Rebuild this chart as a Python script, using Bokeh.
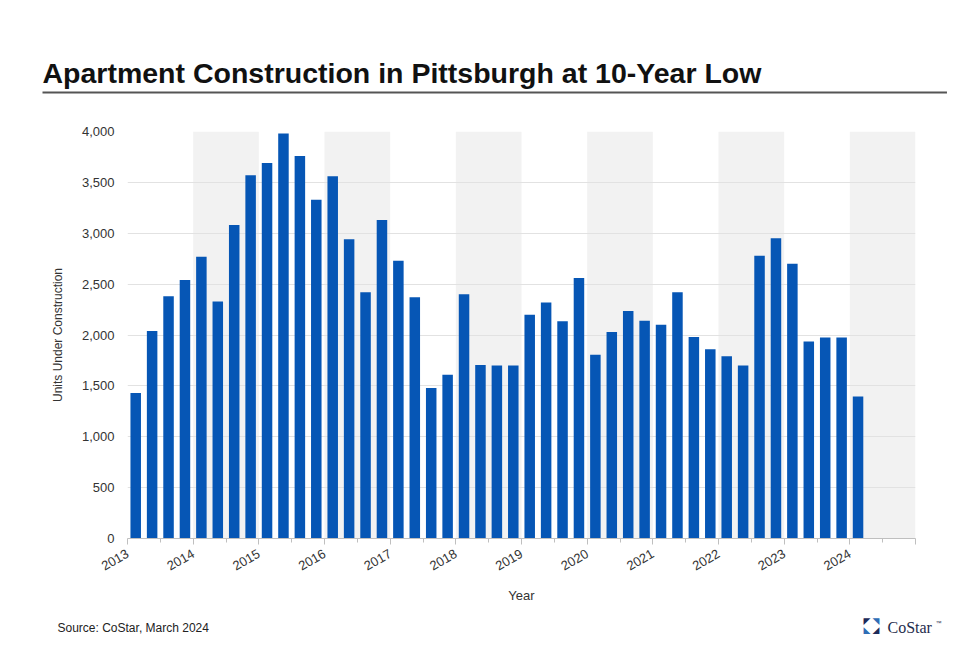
import math
from bokeh.plotting import figure
from bokeh.models import (FixedTicker, NumeralTickFormatter, Range1d, Label,
                          ColumnDataSource, CustomJSTickFormatter)
from bokeh.embed import file_html
from bokeh.resources import INLINE

# ---- data ----
years = [2013, 2014, 2015, 2016, 2017, 2018, 2019, 2020, 2021, 2022, 2023, 2024]
quarter_year = [y for y in years for _ in range(4)][:45]
quarter_num = [q for _ in years for q in (1, 2, 3, 4)][:45]
units = [1430, 2040, 2380, 2540,
         2770, 2330, 3080, 3570,
         3690, 3980, 3760, 3330,
         3560, 2940, 2420, 3130,
         2730, 2370, 1480, 1610,
         2400, 1705, 1700, 1700,
         2200, 2320, 2135, 2560,
         1805, 2030, 2235, 2140,
         2100, 2420, 1980, 1860,
         1790, 1700, 2780, 2950,
         2700, 1935, 1975, 1975,
         1395]
shaded_years = [2014, 2016, 2018, 2020, 2022, 2024]
y_ticks = [0, 500, 1000, 1500, 2000, 2500, 3000, 3500, 4000]

title_text = "Apartment Construction in Pittsburgh at 10-Year Low"
source_text = "Source: CoStar, March 2024"
brand_text = "CoStar"

# ---- figure ----
p = figure(width=956, height=653, output_backend="svg", toolbar_location=None,
           x_range=Range1d(2013, 2025), y_range=Range1d(0, 4000),
           min_border_left=127, min_border_right=41,
           min_border_top=131, min_border_bottom=115)
p.outline_line_color = None
p.background_fill_color = "white"
p.border_fill_color = "white"

band_src = ColumnDataSource(dict(left=shaded_years,
                                 right=[y + 1 for y in shaded_years],
                                 bottom=[0] * len(shaded_years),
                                 top=[4000] * len(shaded_years)))
p.quad(left="left", right="right", bottom="bottom", top="top", source=band_src,
       fill_color="#F2F2F2", line_color=None, level="underlay")

xs = [y + (q - 0.5) / 4 for y, q in zip(quarter_year, quarter_num)]
src = ColumnDataSource(dict(x=xs, top=units))
p.vbar(x="x", top="top", width=0.16, source=src, fill_color="#0656B5",
       line_color=None)

p.xgrid.grid_line_color = None
p.ygrid.grid_line_color = "#E2E2E2"
p.ygrid.ticker = FixedTicker(ticks=y_ticks)

p.yaxis.ticker = FixedTicker(ticks=y_ticks)
p.yaxis.formatter = NumeralTickFormatter(format="0,0")
p.yaxis.axis_line_color = None
p.yaxis.major_tick_line_color = None
p.yaxis.minor_tick_line_color = None
p.yaxis.major_label_text_font = "Liberation Sans"
p.yaxis.major_label_text_font_size = "13px"
p.yaxis.major_label_text_color = "#333333"
p.yaxis.major_label_standoff = 7
p.yaxis.axis_label = "Units Under Construction"
p.yaxis.axis_label_text_font = "Liberation Sans"
p.yaxis.axis_label_text_font_size = "12px"
p.yaxis.axis_label_text_font_style = "normal"
p.yaxis.axis_label_text_color = "#333333"
p.yaxis.axis_label_standoff = 14

p.xaxis.ticker = FixedTicker(ticks=years + [2025],
                             minor_ticks=[y + 0.5 for y in years])
p.xaxis.formatter = CustomJSTickFormatter(code="return tick <= 2024 ? String(tick) : '';")
p.xaxis.major_label_orientation = math.pi / 6
p.xaxis.axis_line_color = "#BFBFBF"
p.xaxis.major_tick_line_color = "#BFBFBF"
p.xaxis.minor_tick_line_color = "#BFBFBF"
p.xaxis.major_tick_in = 0
p.xaxis.major_tick_out = 6
p.xaxis.minor_tick_in = 0
p.xaxis.minor_tick_out = 4
p.xaxis.major_label_text_font = "Liberation Sans"
p.xaxis.major_label_text_font_size = "13px"
p.xaxis.major_label_text_color = "#333333"
p.xaxis.major_label_standoff = 8
p.xaxis.axis_label = "Year"
p.xaxis.axis_label_text_font = "Liberation Sans"
p.xaxis.axis_label_text_font_size = "13px"
p.xaxis.axis_label_text_font_style = "normal"
p.xaxis.axis_label_text_color = "#333333"
p.xaxis.axis_label_standoff = 10

# ---- header and footer (canvas units, placed in the above panel) ----
p.add_layout(Label(x=42, y=72, x_units="canvas", y_units="canvas", text=title_text,
                   text_font="Liberation Sans", text_font_style="bold",
                   text_font_size="28.5px", text_color="#111111",
                   text_baseline="alphabetic"), "above")

# rule under the title: a label whose (padded) background box is the line
p.add_layout(Label(x=42, y=92, x_units="canvas", y_units="canvas", text=" ",
                   text_font="Liberation Sans", text_font_size="1.7px",
                   text_color="#555555", text_baseline="middle",
                   background_fill_color="#555555", background_fill_alpha=1.0,
                   padding=(452, 452, 0, 0)), "above")

p.add_layout(Label(x=57, y=627, x_units="canvas", y_units="canvas", text=source_text,
                   text_font="Liberation Sans", text_font_size="12px",
                   text_color="#222222", text_baseline="middle"), "above")
logo_marks = ["◤", "◥", "◣", "◢"]
logo_dx = [-4.5, 4.5, -4.5, 4.5]
logo_dy = [-4.5, -4.5, 4.5, 4.5]
logo_colors = ["#1C2B5A", "#2F6DB5", "#2F6DB5", "#1C2B5A"]
for m, dx, dy, c in zip(logo_marks, logo_dx, logo_dy, logo_colors):
    p.add_layout(Label(x=871 + dx, y=625 + dy, x_units="canvas", y_units="canvas",
                       text=m, text_font="DejaVu Sans", text_font_size="9px",
                       text_color=c, text_align="center", text_baseline="middle"), "above")
p.add_layout(Label(x=887, y=627, x_units="canvas", y_units="canvas", text=brand_text,
                   text_font="Liberation Serif", text_font_size="16px",
                   text_color="#1F2D4D", text_baseline="middle"), "above")
p.add_layout(Label(x=935, y=622, x_units="canvas", y_units="canvas", text="™",
                   text_font="Liberation Sans", text_font_size="6px",
                   text_color="#1F2D4D", text_baseline="middle"), "above")

open("out.html", "w").write(file_html(p, INLINE))
